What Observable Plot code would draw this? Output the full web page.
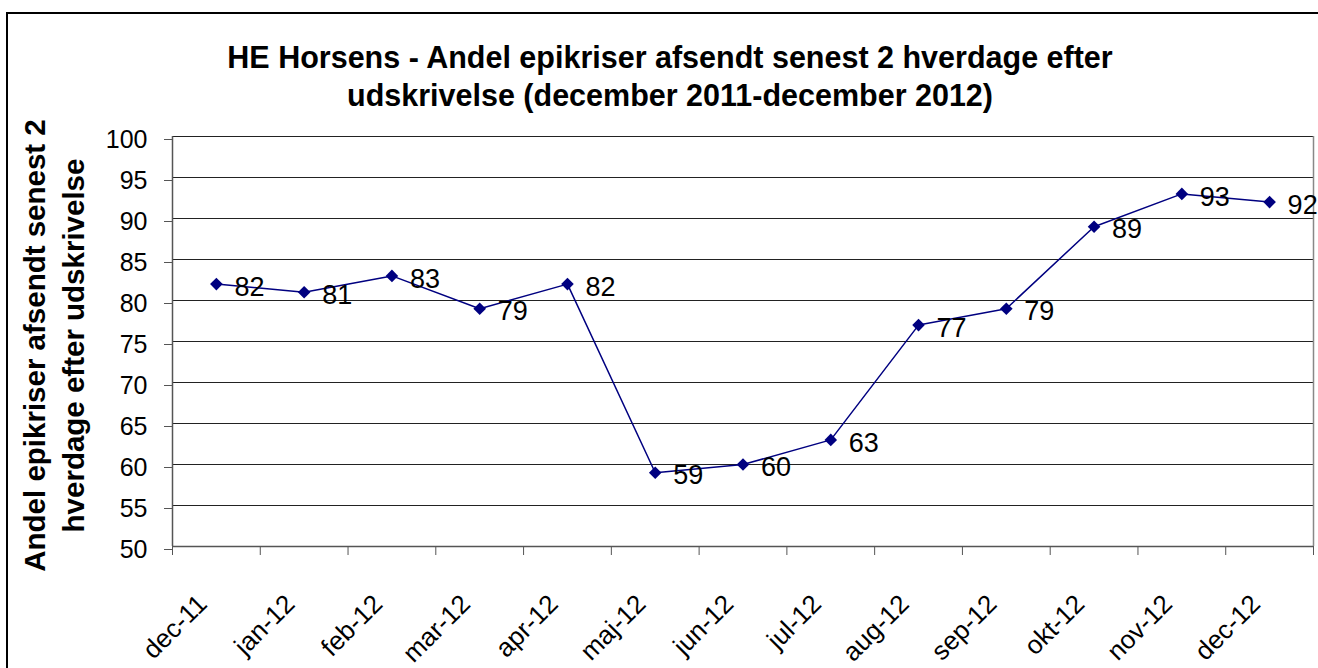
<!DOCTYPE html>
<html>
<head>
<meta charset="utf-8">
<script src="https://cdn.jsdelivr.net/npm/d3@7"></script>
<script src="https://cdn.jsdelivr.net/npm/@observablehq/plot@0.6"></script>
<style>
  html, body { margin: 0; padding: 0; background: #fff; overflow: hidden; }
  #page { position: relative; width: 1318px; height: 668px; overflow: hidden; font-family: "Liberation Sans", Arial, sans-serif; }
  #frame { position: absolute; left: 6px; top: 12px; width: 1600px; height: 900px; border: 2.5px solid #000; box-sizing: border-box; }
  #title { position: relative; height: 120px; width: 1318px; box-sizing: border-box; padding-top: 38px; padding-left: 22px; text-align: center; font-weight: bold; font-size: 30.5px; line-height: 38px; color: #000; white-space: nowrap; }
  #chart { position: relative; width: 1318px; height: 548px; }
</style>
</head>
<body>
<div id="page">
  <div id="frame"></div>
  <div id="title"></div>
  <div id="chart"></div>
</div>
<script>
const months = ["dec-11","jan-12","feb-12","mar-12","apr-12","maj-12","jun-12","jul-12","aug-12","sep-12","okt-12","nov-12","dec-12"];
const values = [82, 81, 83, 79, 82, 59, 60, 63, 77, 79, 89, 93, 92];
const yTicks = [50, 55, 60, 65, 70, 75, 80, 85, 90, 95, 100];
const titleLines = ["HE Horsens - Andel epikriser afsendt senest 2 hverdage efter", "udskrivelse (december 2011-december 2012)"];
const yLabelLines = ["Andel epikriser afsendt senest 2", "hverdage efter udskrivelse"];

document.getElementById("title").innerHTML = titleLines.map(t => `<div>${t}</div>`).join("");

const data = months.map((m, i) => ({i, month: m, value: values[i]}));
const bounds = d3.range(0, months.length + 1).map(k => k - 0.5);
const yMin = yTicks[0], yMax = yTicks[yTicks.length - 1];

const diamond = {
  draw(context, size) {
    const r = Math.sqrt(size / Math.PI);
    context.moveTo(0, -r);
    context.lineTo(r, 0);
    context.lineTo(0, r);
    context.lineTo(-r, 0);
    context.closePath();
  }
};

const chart = Plot.plot({
  width: 1318,
  height: 548,
  marginTop: 16,
  marginBottom: 122,
  marginLeft: 172,
  marginRight: 5,
  x: {type: "linear", domain: [-0.5, months.length - 0.5], axis: null},
  y: {domain: [yMin, yMax], axis: null},
  style: {fontFamily: '"Liberation Sans", Arial, sans-serif', background: "transparent", color: "#000", overflow: "visible"},
  marks: [
    Plot.ruleY(yTicks.filter(t => t > yMin), {stroke: "#222", strokeWidth: 1, shapeRendering: "crispEdges"}),
    Plot.ruleX([months.length - 0.5], {y1: yMin, y2: yMax, stroke: "#888", strokeWidth: 1.5}),
    Plot.ruleY([yMin], {stroke: "#555", strokeWidth: 1.5}),
    Plot.ruleX([-0.5], {y1: yMin, y2: yMax, stroke: "#555", strokeWidth: 1.5}),
    Plot.axisY({ticks: yTicks, tickSize: 8, tickPadding: 17, fontSize: 25, label: null, stroke: "#555", tickFormat: d => String(d), dy: 3}),
    Plot.axisX({ticks: bounds, tickSize: 9, tickFormat: () => "", label: null, stroke: "#555"}),
    Plot.text(data, {x: "i", y: yMin, text: "month", rotate: -45, textAnchor: "end", lineAnchor: "bottom", dx: -8, dy: 59, fontSize: 26}),
    Plot.line(data, {x: "i", y: "value", stroke: "#000080", strokeWidth: 1.5}),
    Plot.dot(data, {x: "i", y: "value", symbol: diamond, r: 6.3, fill: "#000080", stroke: "none"}),
    Plot.text(data, {x: "i", y: "value", text: d => String(d.value), dx: 18, dy: 3, textAnchor: "start", fontSize: 27}),
    Plot.text([yLabelLines.join("\n")], {frameAnchor: "left", text: d => d, rotate: -90, textAnchor: "middle", lineAnchor: "bottom", lineHeight: 1.29, dx: -89, dy: 4, fontSize: 29.5, fontWeight: "bold"})
  ]
});
document.getElementById("chart").appendChild(chart);
</script>
</body>
</html>
